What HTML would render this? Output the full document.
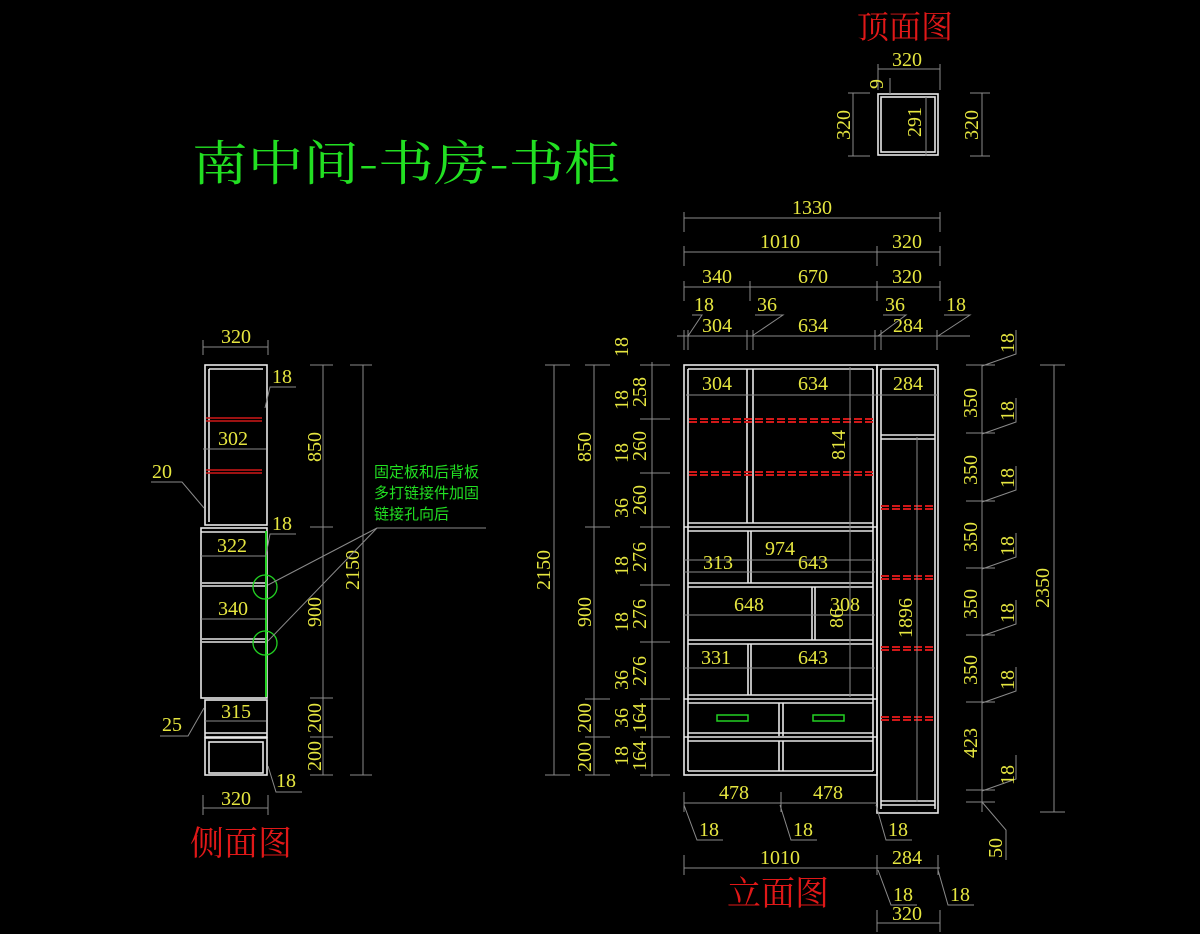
<!DOCTYPE html>
<html><head><meta charset="utf-8"><style>
html,body{margin:0;padding:0;background:#000;}
svg{display:block}
.n{font-family:"Liberation Serif","Noto Serif CJK SC",serif;font-size:20px;fill:#e6e640}
.w{stroke:#e8e8e8;stroke-width:1.6;fill:none}
.d{stroke:#8a8a8a;stroke-width:1;fill:none}
.r{stroke:#d01818;stroke-width:2;stroke-dasharray:8 3;fill:none}
.t{stroke:#9a9a9a;stroke-width:1.2}
</style></head><body>
<svg width="1200" height="934" viewBox="0 0 1200 934" xmlns="http://www.w3.org/2000/svg">
<rect width="1200" height="934" fill="#000"/>

<!-- Titles -->
<text x="192" y="180" font-family="'Noto Serif CJK SC','Liberation Serif',serif" font-size="48" fill="#22e022" textLength="428" lengthAdjust="spacingAndGlyphs">南中间-书房-书柜</text>
<text x="857" y="38" font-family="'Noto Serif CJK SC',serif" font-size="32" fill="#e01818">顶面图</text>
<text x="190" y="855" font-family="'Noto Serif CJK SC',serif" font-size="34" fill="#e01818">侧面图</text>
<text x="727" y="905" font-family="'Noto Serif CJK SC',serif" font-size="34" fill="#e01818">立面图</text>

<!-- ============ TOP VIEW ============ -->
<rect class="w" x="878" y="94" width="60" height="61"/>
<rect class="w" x="881" y="97" width="54" height="55" stroke-width="1"/>
<line class="d" x1="878" y1="69" x2="940" y2="69"/>
<line class="d" x1="878" y1="64" x2="878" y2="90"/>
<line class="d" x1="940" y1="64" x2="940" y2="90"/>
<text class="n" x="907" y="66" text-anchor="middle">320</text>
<line class="d" x1="853" y1="93" x2="853" y2="156"/>
<line class="d" x1="848" y1="93" x2="870" y2="93"/><line class="d" x1="848" y1="156" x2="870" y2="156"/>
<text class="n" transform="rotate(-90 843 125)" x="843" y="125" text-anchor="middle" dy="7">320</text>
<line class="d" x1="982" y1="93" x2="982" y2="156"/>
<line class="d" x1="970" y1="93" x2="990" y2="93"/><line class="d" x1="970" y1="156" x2="990" y2="156"/>
<text class="n" transform="rotate(-90 971 125)" x="971" y="125" text-anchor="middle" dy="7">320</text>
<line class="d" x1="926" y1="97" x2="926" y2="156"/>
<text class="n" transform="rotate(-90 914 122)" x="914" y="122" text-anchor="middle" dy="7">291</text>
<text class="n" transform="rotate(-90 876 84)" x="876" y="84" text-anchor="middle" dy="7" font-size="16">9</text>
<line class="d" x1="890" y1="78" x2="890" y2="94"/>

<!-- ============ SIDE VIEW ============ -->
<rect class="w" x="205" y="365" width="62" height="160"/>
<line class="w" x1="209" y1="369" x2="209" y2="522" stroke-width="1"/>
<line class="w" x1="209" y1="369" x2="263" y2="369" stroke-width="1"/>
<line x1="206" y1="418" x2="262" y2="418" stroke="#d01818" stroke-width="1.5"/>
<line x1="206" y1="421" x2="262" y2="421" stroke="#d01818" stroke-width="1.5"/>
<line x1="206" y1="470" x2="262" y2="470" stroke="#d01818" stroke-width="1.5"/>
<line x1="206" y1="473" x2="262" y2="473" stroke="#d01818" stroke-width="1.5"/>
<rect class="w" x="201" y="528" width="66" height="170"/>
<line class="w" x1="201" y1="532" x2="265" y2="532" stroke-width="1"/>
<line class="w" x1="202" y1="583" x2="265" y2="583" stroke-width="1"/>
<line class="w" x1="202" y1="586" x2="265" y2="586" stroke-width="1"/>
<line class="w" x1="202" y1="639" x2="265" y2="639" stroke-width="1"/>
<line class="w" x1="202" y1="642" x2="265" y2="642" stroke-width="1"/>
<line x1="266" y1="531" x2="266" y2="697" stroke="#22d022" stroke-width="2"/>
<circle cx="265" cy="587" r="12" stroke="#22d022" stroke-width="1.3" fill="none"/>
<circle cx="265" cy="643" r="12" stroke="#22d022" stroke-width="1.3" fill="none"/>
<rect class="w" x="205" y="700" width="62" height="37"/>
<line class="w" x1="205" y1="733" x2="267" y2="733" stroke-width="1"/>
<rect class="w" x="205" y="738" width="62" height="37"/>
<rect class="w" x="209" y="742" width="54" height="31" stroke-width="1"/>
<!-- side dims -->
<line class="d" x1="203" y1="347" x2="268" y2="347"/>
<line class="d" x1="203" y1="340" x2="203" y2="355"/><line class="d" x1="268" y1="340" x2="268" y2="355"/>
<text class="n" x="236" y="343" text-anchor="middle">320</text>
<line class="d" x1="203" y1="449" x2="266" y2="449"/>
<text class="n" x="233" y="445" text-anchor="middle">302</text>
<line class="d" x1="201" y1="556" x2="266" y2="556"/>
<text class="n" x="232" y="552" text-anchor="middle">322</text>
<line class="d" x1="201" y1="619" x2="266" y2="619"/>
<text class="n" x="233" y="615" text-anchor="middle">340</text>
<line class="d" x1="205" y1="721" x2="266" y2="721"/>
<text class="n" x="236" y="718" text-anchor="middle">315</text>
<line class="d" x1="203" y1="808" x2="268" y2="808"/>
<line class="d" x1="203" y1="795" x2="203" y2="815"/><line class="d" x1="268" y1="795" x2="268" y2="815"/>
<text class="n" x="236" y="805" text-anchor="middle">320</text>
<text class="n" x="272" y="383">18</text><polyline class="d" points="296,387 270,387 265,408"/>
<text class="n" x="272" y="530">18</text><polyline class="d" points="296,534 270,534 266,555"/>
<text class="n" x="276" y="787">18</text><polyline class="d" points="302,792 276,792 268,766"/>
<text class="n" x="152" y="478">20</text><polyline class="d" points="151,482 182,482 204,508"/>
<text class="n" x="162" y="731">25</text><polyline class="d" points="160,736 188,736 204,708"/>
<line class="d" x1="323" y1="365" x2="323" y2="775"/>
<line class="d" x1="310" y1="365" x2="333" y2="365"/><line class="d" x1="310" y1="527" x2="333" y2="527"/>
<line class="d" x1="310" y1="698" x2="333" y2="698"/><line class="d" x1="310" y1="737" x2="333" y2="737"/><line class="d" x1="310" y1="775" x2="333" y2="775"/>
<text class="n" transform="rotate(-90 314 447)" x="314" y="447" text-anchor="middle" dy="7">850</text>
<text class="n" transform="rotate(-90 314 612)" x="314" y="612" text-anchor="middle" dy="7">900</text>
<text class="n" transform="rotate(-90 314 718)" x="314" y="718" text-anchor="middle" dy="7">200</text>
<text class="n" transform="rotate(-90 314 756)" x="314" y="756" text-anchor="middle" dy="7">200</text>
<line class="d" x1="363" y1="365" x2="363" y2="775"/>
<line class="d" x1="350" y1="365" x2="372" y2="365"/><line class="d" x1="350" y1="775" x2="372" y2="775"/>
<text class="n" transform="rotate(-90 352 570)" x="352" y="570" text-anchor="middle" dy="7">2150</text>
<text font-family="'Noto Sans CJK SC',sans-serif" font-size="15" fill="#22e022" x="374" y="477">固定板和后背板</text>
<text font-family="'Noto Sans CJK SC',sans-serif" font-size="15" fill="#22e022" x="374" y="498">多打链接件加固</text>
<text font-family="'Noto Sans CJK SC',sans-serif" font-size="15" fill="#22e022" x="374" y="519">链接孔向后</text>
<line class="d" x1="377" y1="528" x2="486" y2="528"/>
<line class="d" x1="377" y1="528" x2="268" y2="585"/>
<line class="d" x1="377" y1="528" x2="268" y2="641"/>

<!-- ============ ELEVATION ============ -->
<!-- main body -->
<rect class="w" x="684" y="365" width="193" height="410"/>
<line class="w" x1="688" y1="369" x2="688" y2="771" stroke-width="1"/>
<line class="w" x1="873" y1="369" x2="873" y2="771" stroke-width="1"/>
<line class="w" x1="688" y1="369" x2="873" y2="369" stroke-width="1"/>
<line class="w" x1="688" y1="771" x2="873" y2="771" stroke-width="1"/>
<!-- top section dividers -->
<line class="w" x1="747" y1="369" x2="747" y2="523" stroke-width="1.2"/>
<line class="w" x1="753" y1="369" x2="753" y2="523" stroke-width="1.2"/>
<line class="w" x1="688" y1="523" x2="873" y2="523" stroke-width="1.2"/>
<line class="w" x1="684" y1="527" x2="877" y2="527" stroke-width="1.2"/>
<line class="w" x1="688" y1="531" x2="873" y2="531" stroke-width="1.2"/>
<line class="r" x1="689" y1="419" x2="873" y2="419"/><line class="r" x1="689" y1="422" x2="873" y2="422"/>
<line class="r" x1="689" y1="472" x2="873" y2="472"/><line class="r" x1="689" y1="475" x2="873" y2="475"/>
<!-- middle shelves -->
<line class="w" x1="748" y1="531" x2="748" y2="583" stroke-width="1.2"/>
<line class="w" x1="751" y1="531" x2="751" y2="583" stroke-width="1.2"/>
<line class="w" x1="688" y1="583" x2="873" y2="583" stroke-width="1.2"/>
<line class="w" x1="688" y1="587" x2="873" y2="587" stroke-width="1.2"/>
<line class="w" x1="812" y1="587" x2="812" y2="640" stroke-width="1.2"/>
<line class="w" x1="815" y1="587" x2="815" y2="640" stroke-width="1.2"/>
<line class="w" x1="688" y1="640" x2="873" y2="640" stroke-width="1.2"/>
<line class="w" x1="688" y1="644" x2="873" y2="644" stroke-width="1.2"/>
<line class="w" x1="748" y1="644" x2="748" y2="695" stroke-width="1.2"/>
<line class="w" x1="751" y1="644" x2="751" y2="695" stroke-width="1.2"/>
<line class="w" x1="688" y1="695" x2="873" y2="695" stroke-width="1.2"/>
<line class="w" x1="684" y1="699" x2="877" y2="699" stroke-width="1.2"/>
<line class="w" x1="688" y1="703" x2="873" y2="703" stroke-width="1.2"/>
<!-- drawers -->
<line class="w" x1="779" y1="703" x2="779" y2="736" stroke-width="1.2"/>
<line class="w" x1="783" y1="703" x2="783" y2="736" stroke-width="1.2"/>
<line class="w" x1="688" y1="733" x2="873" y2="733" stroke-width="1.2"/>
<line class="w" x1="684" y1="737" x2="877" y2="737" stroke-width="1.2"/>
<line class="w" x1="688" y1="741" x2="873" y2="741" stroke-width="1.2"/>
<line class="w" x1="779" y1="741" x2="779" y2="771" stroke-width="1.2"/>
<line class="w" x1="783" y1="741" x2="783" y2="771" stroke-width="1.2"/>
<rect x="717" y="715" width="31" height="6" stroke="#22d022" stroke-width="1.5" fill="none"/>
<rect x="813" y="715" width="31" height="6" stroke="#22d022" stroke-width="1.5" fill="none"/>
<!-- right tall column -->
<rect class="w" x="877" y="365" width="61" height="448"/>
<line class="w" x1="881" y1="369" x2="881" y2="809" stroke-width="1"/>
<line class="w" x1="935" y1="369" x2="935" y2="809" stroke-width="1"/>
<line class="w" x1="881" y1="369" x2="935" y2="369" stroke-width="1"/>
<line class="w" x1="881" y1="435" x2="935" y2="435" stroke-width="1.2"/>
<line class="w" x1="881" y1="439" x2="935" y2="439" stroke-width="1.2"/>
<line class="w" x1="881" y1="801" x2="935" y2="801" stroke-width="1.2"/>
<line class="w" x1="881" y1="805" x2="935" y2="805" stroke-width="1.2"/>
<line class="r" x1="881" y1="506" x2="935" y2="506"/><line class="r" x1="881" y1="509" x2="935" y2="509"/>
<line class="r" x1="881" y1="576" x2="935" y2="576"/><line class="r" x1="881" y1="579" x2="935" y2="579"/>
<line class="r" x1="881" y1="647" x2="935" y2="647"/><line class="r" x1="881" y1="650" x2="935" y2="650"/>
<line class="r" x1="881" y1="717" x2="935" y2="717"/><line class="r" x1="881" y1="720" x2="935" y2="720"/>
<!-- inner dims -->
<line class="d" x1="686" y1="395" x2="938" y2="395"/>
<text class="n" x="717" y="390" text-anchor="middle">304</text>
<text class="n" x="813" y="390" text-anchor="middle">634</text>
<text class="n" x="908" y="390" text-anchor="middle">284</text>
<line class="d" x1="850" y1="367" x2="850" y2="697"/>
<text class="n" transform="rotate(-90 838 445)" x="838" y="445" text-anchor="middle" dy="7">814</text>
<line class="d" x1="684" y1="560" x2="875" y2="560"/>
<line class="d" x1="684" y1="572" x2="875" y2="572"/>
<text class="n" x="780" y="555" text-anchor="middle">974</text>
<text class="n" x="718" y="569" text-anchor="middle">313</text>
<text class="n" x="813" y="569" text-anchor="middle">643</text>
<line class="d" x1="684" y1="615" x2="875" y2="615"/>
<text class="n" x="749" y="611" text-anchor="middle">648</text>
<text class="n" x="845" y="611" text-anchor="middle">308</text>
<text class="n" transform="rotate(-90 836 618)" x="836" y="618" text-anchor="middle" dy="7">86</text>
<line class="d" x1="684" y1="668" x2="875" y2="668"/>
<text class="n" x="716" y="664" text-anchor="middle">331</text>
<text class="n" x="813" y="664" text-anchor="middle">643</text>
<line class="d" x1="917" y1="437" x2="917" y2="802"/>
<text class="n" transform="rotate(-90 905 618)" x="905" y="618" text-anchor="middle" dy="7">1896</text>
<line class="d" x1="684" y1="803" x2="877" y2="803"/>
<line class="d" x1="684" y1="792" x2="684" y2="812"/><line class="d" x1="781" y1="792" x2="781" y2="812"/>
<text class="n" x="734" y="799" text-anchor="middle">478</text>
<text class="n" x="828" y="799" text-anchor="middle">478</text>
<text class="n" x="699" y="836">18</text><polyline class="d" points="723,840 697,840 684,805"/>
<text class="n" x="793" y="836">18</text><polyline class="d" points="817,840 791,840 780,805"/>
<text class="n" x="888" y="836">18</text><polyline class="d" points="912,840 886,840 876,805"/>

<!-- top dims -->
<line class="d" x1="684" y1="218" x2="940" y2="218"/>
<line class="d" x1="684" y1="212" x2="684" y2="232"/><line class="d" x1="940" y1="212" x2="940" y2="232"/>
<text class="n" x="812" y="214" text-anchor="middle">1330</text>
<line class="d" x1="684" y1="252" x2="940" y2="252"/>
<line class="d" x1="684" y1="246" x2="684" y2="266"/><line class="d" x1="877" y1="246" x2="877" y2="266"/><line class="d" x1="940" y1="246" x2="940" y2="266"/>
<text class="n" x="780" y="248" text-anchor="middle">1010</text>
<text class="n" x="907" y="248" text-anchor="middle">320</text>
<line class="d" x1="684" y1="287" x2="940" y2="287"/>
<line class="d" x1="684" y1="281" x2="684" y2="301"/><line class="d" x1="750" y1="281" x2="750" y2="301"/><line class="d" x1="877" y1="281" x2="877" y2="301"/><line class="d" x1="940" y1="281" x2="940" y2="301"/>
<text class="n" x="717" y="283" text-anchor="middle">340</text>
<text class="n" x="813" y="283" text-anchor="middle">670</text>
<text class="n" x="907" y="283" text-anchor="middle">320</text>
<line class="d" x1="677" y1="336" x2="970" y2="336"/>
<line class="d" x1="684" y1="330" x2="684" y2="350"/><line class="d" x1="688" y1="330" x2="688" y2="350"/>
<line class="d" x1="747" y1="330" x2="747" y2="350"/><line class="d" x1="753" y1="330" x2="753" y2="350"/>
<line class="d" x1="875" y1="330" x2="875" y2="350"/><line class="d" x1="881" y1="330" x2="881" y2="350"/><line class="d" x1="937" y1="330" x2="937" y2="350"/>
<text class="n" x="694" y="311">18</text><polyline class="d" points="692,315 702,315 688,336"/>
<text class="n" x="757" y="311">36</text><polyline class="d" points="755,315 783,315 752,336"/>
<text class="n" x="885" y="311">36</text><polyline class="d" points="883,315 906,315 878,336"/>
<text class="n" x="946" y="311">18</text><polyline class="d" points="944,315 970,315 938,336"/>
<text class="n" x="717" y="332" text-anchor="middle">304</text>
<text class="n" x="813" y="332" text-anchor="middle">634</text>
<text class="n" x="908" y="332" text-anchor="middle">284</text>

<!-- left dims -->
<line class="d" x1="554" y1="365" x2="554" y2="775"/>
<line class="d" x1="545" y1="365" x2="570" y2="365"/><line class="d" x1="545" y1="775" x2="570" y2="775"/>
<text class="n" transform="rotate(-90 543 570)" x="543" y="570" text-anchor="middle" dy="7">2150</text>
<line class="d" x1="594" y1="365" x2="594" y2="775"/>
<line class="d" x1="585" y1="365" x2="610" y2="365"/><line class="d" x1="585" y1="527" x2="610" y2="527"/>
<line class="d" x1="585" y1="699" x2="610" y2="699"/><line class="d" x1="585" y1="737" x2="610" y2="737"/><line class="d" x1="585" y1="775" x2="610" y2="775"/>
<text class="n" transform="rotate(-90 584 447)" x="584" y="447" text-anchor="middle" dy="7">850</text>
<text class="n" transform="rotate(-90 584 612)" x="584" y="612" text-anchor="middle" dy="7">900</text>
<text class="n" transform="rotate(-90 584 718)" x="584" y="718" text-anchor="middle" dy="7">200</text>
<text class="n" transform="rotate(-90 584 757)" x="584" y="757" text-anchor="middle" dy="7">200</text>
<line class="d" x1="652" y1="362" x2="652" y2="777"/>
<g class="d">
<line x1="640" y1="365" x2="670" y2="365"/><line x1="640" y1="419" x2="670" y2="419"/><line x1="640" y1="473" x2="670" y2="473"/>
<line x1="640" y1="527" x2="670" y2="527"/><line x1="640" y1="585" x2="670" y2="585"/><line x1="640" y1="642" x2="670" y2="642"/>
<line x1="640" y1="699" x2="670" y2="699"/><line x1="640" y1="737" x2="670" y2="737"/><line x1="640" y1="775" x2="670" y2="775"/>
</g>
<text class="n" transform="rotate(-90 621 347)" x="621" y="347" text-anchor="middle" dy="7">18</text>
<text class="n" transform="rotate(-90 621 400)" x="621" y="400" text-anchor="middle" dy="7">18</text>
<text class="n" transform="rotate(-90 639 392)" x="639" y="392" text-anchor="middle" dy="7">258</text>
<text class="n" transform="rotate(-90 621 453)" x="621" y="453" text-anchor="middle" dy="7">18</text>
<text class="n" transform="rotate(-90 639 446)" x="639" y="446" text-anchor="middle" dy="7">260</text>
<text class="n" transform="rotate(-90 621 508)" x="621" y="508" text-anchor="middle" dy="7">36</text>
<text class="n" transform="rotate(-90 639 500)" x="639" y="500" text-anchor="middle" dy="7">260</text>
<text class="n" transform="rotate(-90 621 566)" x="621" y="566" text-anchor="middle" dy="7">18</text>
<text class="n" transform="rotate(-90 639 557)" x="639" y="557" text-anchor="middle" dy="7">276</text>
<text class="n" transform="rotate(-90 621 622)" x="621" y="622" text-anchor="middle" dy="7">18</text>
<text class="n" transform="rotate(-90 639 614)" x="639" y="614" text-anchor="middle" dy="7">276</text>
<text class="n" transform="rotate(-90 621 680)" x="621" y="680" text-anchor="middle" dy="7">36</text>
<text class="n" transform="rotate(-90 639 671)" x="639" y="671" text-anchor="middle" dy="7">276</text>
<text class="n" transform="rotate(-90 621 718)" x="621" y="718" text-anchor="middle" dy="7">36</text>
<text class="n" transform="rotate(-90 639 718)" x="639" y="718" text-anchor="middle" dy="7">164</text>
<text class="n" transform="rotate(-90 621 756)" x="621" y="756" text-anchor="middle" dy="7">18</text>
<text class="n" transform="rotate(-90 639 756)" x="639" y="756" text-anchor="middle" dy="7">164</text>

<!-- right dims -->
<line class="d" x1="982" y1="365" x2="982" y2="812"/>
<g class="d">
<line x1="966" y1="365" x2="995" y2="365"/><line x1="966" y1="433" x2="995" y2="433"/><line x1="966" y1="501" x2="995" y2="501"/>
<line x1="966" y1="568" x2="995" y2="568"/><line x1="966" y1="635" x2="995" y2="635"/><line x1="966" y1="702" x2="995" y2="702"/>
<line x1="966" y1="790" x2="995" y2="790"/><line x1="966" y1="802" x2="995" y2="802"/>
<polyline points="982,366 1016,354 1016,330"/><polyline points="982,434 1016,422 1016,398"/><polyline points="982,502 1016,490 1016,466"/>
<polyline points="982,569 1016,557 1016,533"/><polyline points="982,636 1016,624 1016,600"/><polyline points="982,703 1016,691 1016,667"/>
<polyline points="982,791 1016,779 1016,755"/><polyline points="982,802 1006,830 1006,860"/>
</g>
<text class="n" transform="rotate(-90 970 403)" x="970" y="403" text-anchor="middle" dy="7">350</text>
<text class="n" transform="rotate(-90 970 470)" x="970" y="470" text-anchor="middle" dy="7">350</text>
<text class="n" transform="rotate(-90 970 537)" x="970" y="537" text-anchor="middle" dy="7">350</text>
<text class="n" transform="rotate(-90 970 604)" x="970" y="604" text-anchor="middle" dy="7">350</text>
<text class="n" transform="rotate(-90 970 670)" x="970" y="670" text-anchor="middle" dy="7">350</text>
<text class="n" transform="rotate(-90 970 743)" x="970" y="743" text-anchor="middle" dy="7">423</text>
<text class="n" transform="rotate(-90 1007 343)" x="1007" y="343" text-anchor="middle" dy="7">18</text>
<text class="n" transform="rotate(-90 1007 411)" x="1007" y="411" text-anchor="middle" dy="7">18</text>
<text class="n" transform="rotate(-90 1007 478)" x="1007" y="478" text-anchor="middle" dy="7">18</text>
<text class="n" transform="rotate(-90 1007 546)" x="1007" y="546" text-anchor="middle" dy="7">18</text>
<text class="n" transform="rotate(-90 1007 613)" x="1007" y="613" text-anchor="middle" dy="7">18</text>
<text class="n" transform="rotate(-90 1007 680)" x="1007" y="680" text-anchor="middle" dy="7">18</text>
<text class="n" transform="rotate(-90 1007 775)" x="1007" y="775" text-anchor="middle" dy="7">18</text>
<text class="n" transform="rotate(-90 995 848)" x="995" y="848" text-anchor="middle" dy="7">50</text>
<line class="d" x1="1054" y1="365" x2="1054" y2="812"/>
<line class="d" x1="1040" y1="365" x2="1065" y2="365"/><line class="d" x1="1040" y1="812" x2="1065" y2="812"/>
<text class="n" transform="rotate(-90 1042 588)" x="1042" y="588" text-anchor="middle" dy="7">2350</text>

<!-- bottom dims -->
<line class="d" x1="684" y1="868" x2="940" y2="868"/>
<line class="d" x1="684" y1="855" x2="684" y2="875"/><line class="d" x1="877" y1="855" x2="877" y2="875"/><line class="d" x1="938" y1="855" x2="938" y2="875"/>
<text class="n" x="780" y="864" text-anchor="middle">1010</text>
<text class="n" x="907" y="864" text-anchor="middle">284</text>
<text class="n" x="893" y="901">18</text><polyline class="d" points="917,905 891,905 878,870"/>
<text class="n" x="950" y="901">18</text><polyline class="d" points="974,905 948,905 938,870"/>
<line class="d" x1="877" y1="923" x2="940" y2="923"/>
<line class="d" x1="877" y1="910" x2="877" y2="932"/><line class="d" x1="940" y1="910" x2="940" y2="932"/>
<text class="n" x="907" y="920" text-anchor="middle">320</text>
</svg>
</body></html>
